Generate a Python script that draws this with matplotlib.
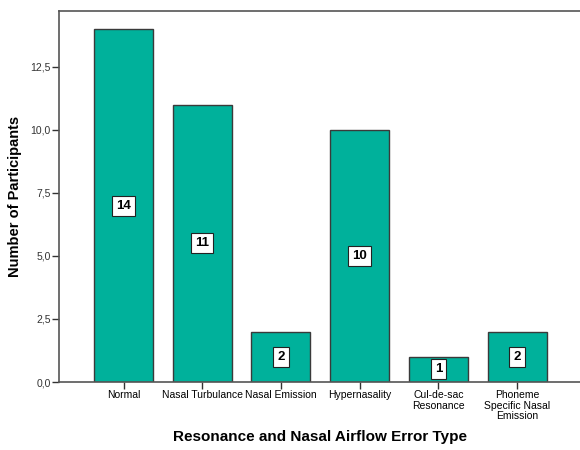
import matplotlib
matplotlib.use("Agg")
import matplotlib.pyplot as plt
from matplotlib.ticker import FuncFormatter

categories = ["Normal", "Nasal Turbulance", "Nasal Emission", "Hypernasality",
              "Cul-de-sac\nResonance", "Phoneme\nSpecific Nasal\nEmission"]
counts = [14, 11, 2, 10, 1, 2]
yticks = [0, 2.5, 5, 7.5, 10, 12.5]

plt.rcParams['font.family'] = ['Liberation Sans', 'DejaVu Sans']

fig = plt.figure(figsize=(5.8, 4.5), dpi=100)
ax = fig.add_axes([59/580, 68/450, 1 - 59/580, (382-11)/450])

x = list(range(len(categories)))
ax.bar(x, counts, width=0.75, color='#00b19b', edgecolor='#3a3a3a', linewidth=1.0, zorder=2)

for xi, c in zip(x, counts):
    ax.text(xi, c/2, str(c), ha='center', va='center', fontsize=9.5, fontweight='bold',
            bbox=dict(boxstyle='square,pad=0.3', fc='white', ec='#222222', lw=0.8), zorder=3)

ax.set_xlim(-0.82, 5.8)
ax.set_ylim(0, 14.72)
ax.set_yticks(yticks)
ax.yaxis.set_major_formatter(FuncFormatter(lambda v, p: f"{v:.1f}".replace('.', ',')))
ax.set_xticks(x)
ax.set_xticklabels(categories, fontsize=7.5, linespacing=1.05)
ax.tick_params(axis='y', labelsize=7.5, length=5, width=1, color='#333333', labelcolor='#333333', pad=1)
ax.tick_params(axis='x', length=5, width=1, color='#333333', pad=1)

for s in ['left', 'bottom', 'top']:
    ax.spines[s].set_color('#555555')
    ax.spines[s].set_linewidth(1.2)
ax.spines['right'].set_visible(False)

ax.set_ylabel("Number of Participants", fontsize=10.5, fontweight='bold')
ax.yaxis.set_label_coords(-(59-15)/(580-59), 0.5)
ax.set_xlabel("Resonance and Nasal Airflow Error Type", fontsize=11, fontweight='bold')
ax.xaxis.set_label_coords((320-59)/(580-59), -(437-382)/371)
ax.xaxis.label.set_va('center')
ax.yaxis.label.set_va('center')

fig.savefig("out.png", dpi=100)
